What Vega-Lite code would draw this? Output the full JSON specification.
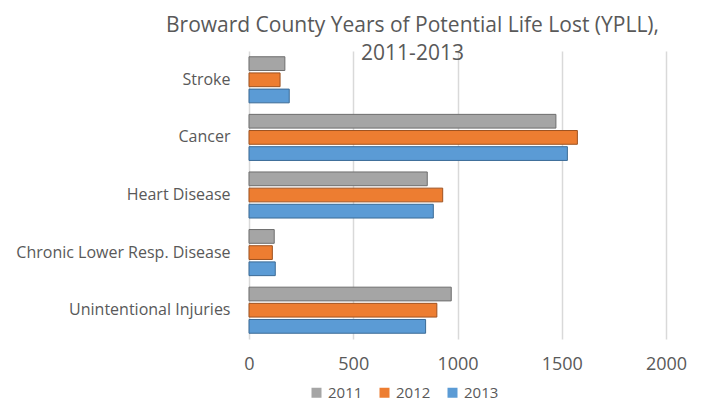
{
  "$schema": "https://vega.github.io/schema/vega-lite/v6.json",
  "width": 417,
  "height": 288,
  "autosize": {"type": "none"},
  "padding": {"left": 249, "top": 51, "right": 35, "bottom": 63},
  "background": "white",
  "title": {
    "text": ["Broward County Years of Potential Life Lost (YPLL),", "2011-2013"],
    "fontSize": 21,
    "font": "Open Sans",
    "fontWeight": "normal",
    "color": "#595959",
    "anchor": "middle",
    "dx": -45,
    "lineHeight": 28,
    "offset": -13
  },
  "data": {
    "values": [
      {"cause": "Stroke", "year": "2011", "ypll": 172},
      {"cause": "Stroke", "year": "2012", "ypll": 149},
      {"cause": "Stroke", "year": "2013", "ypll": 193},
      {"cause": "Cancer", "year": "2011", "ypll": 1472},
      {"cause": "Cancer", "year": "2012", "ypll": 1575},
      {"cause": "Cancer", "year": "2013", "ypll": 1527},
      {"cause": "Heart Disease", "year": "2011", "ypll": 855},
      {"cause": "Heart Disease", "year": "2012", "ypll": 929},
      {"cause": "Heart Disease", "year": "2013", "ypll": 884},
      {"cause": "Chronic Lower Resp. Disease", "year": "2011", "ypll": 121},
      {"cause": "Chronic Lower Resp. Disease", "year": "2012", "ypll": 112},
      {"cause": "Chronic Lower Resp. Disease", "year": "2013", "ypll": 126},
      {"cause": "Unintentional Injuries", "year": "2011", "ypll": 970},
      {"cause": "Unintentional Injuries", "year": "2012", "ypll": 901},
      {"cause": "Unintentional Injuries", "year": "2013", "ypll": 847}
    ]
  },
  "mark": {"type": "bar", "strokeWidth": 1},
  "encoding": {
    "y": {
      "field": "cause",
      "type": "nominal",
      "sort": ["Stroke", "Cancer", "Heart Disease", "Chronic Lower Resp. Disease", "Unintentional Injuries"],
      "scale": {"paddingInner": 0.2, "paddingOuter": 0.1},
      "axis": {
        "title": null,
        "ticks": false,
        "domain": false,
        "labelFont": "Open Sans",
        "labelFontSize": 16,
        "labelColor": "#595959",
        "labelPadding": 19,
        "labelLimit": 300
      }
    },
    "yOffset": {
      "field": "year",
      "type": "nominal",
      "sort": ["2011", "2012", "2013"],
      "scale": {"paddingInner": 0.15}
    },
    "x": {
      "field": "ypll",
      "type": "quantitative",
      "scale": {"domain": [0, 2000], "nice": false},
      "axis": {
        "title": null,
        "values": [0, 500, 1000, 1500, 2000],
        "format": "d",
        "ticks": false,
        "domain": false,
        "grid": true,
        "gridColor": "#d9d9d9",
        "gridWidth": 1.5,
        "labelFlush": false,
        "labelFont": "Open Sans",
        "labelFontSize": 18,
        "labelColor": "#595959",
        "labelPadding": 16
      }
    },
    "color": {
      "field": "year",
      "type": "nominal",
      "scale": {"domain": ["2011", "2012", "2013"], "range": ["#a5a5a5", "#ed7d31", "#5b9bd5"]},
      "legend": {
        "title": null,
        "orient": "none",
        "direction": "horizontal",
        "legendX": 60,
        "legendY": 334,
        "symbolType": "square",
        "symbolSize": 100,
        "symbolStrokeWidth": 0,
        "labelFont": "Open Sans",
        "labelFontSize": 15,
        "labelColor": "#595959",
        "labelOffset": 4,
        "columnPadding": 14
      }
    },
    "stroke": {
      "field": "year",
      "type": "nominal",
      "scale": {"domain": ["2011", "2012", "2013"], "range": ["#6e6e6e", "#9e5220", "#3b6b96"]},
      "legend": null
    }
  },
  "config": {"view": {"stroke": null}}
}
